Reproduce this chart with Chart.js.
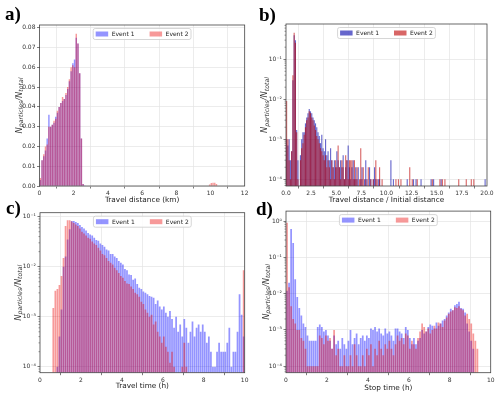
<!DOCTYPE html>
<html>
<head>
<meta charset="utf-8">
<script src="https://cdn.jsdelivr.net/npm/chart.js@4/dist/chart.umd.min.js"></script>
<style>
  body { margin: 0; background: #fff; width: 500px; height: 396px; position: relative; overflow: hidden; }
  canvas { position: absolute; }
  .lbl { position: absolute; font: bold 19px "Liberation Serif", serif; line-height: 19px; color: #000; }
</style>
</head>
<body>
<canvas id="chartA" style="left:0;top:0" width="250" height="206"></canvas>
<canvas id="chartB" style="left:250px;top:0" width="250" height="206"></canvas>
<canvas id="chartC" style="left:0;top:206px" width="250" height="190"></canvas>
<canvas id="chartD" style="left:250px;top:206px" width="250" height="190"></canvas>
<div class="lbl" style="left:5px;top:4px">a)</div>
<div class="lbl" style="left:259px;top:5px">b)</div>
<div class="lbl" style="left:6px;top:198px">c)</div>
<div class="lbl" style="left:256px;top:199px">d)</div>
<script>
// Labels
const seriesNames = ["Event 1", "Event 2"];
const yTitleParts = [["N", 8.3, 0], ["particles", 6.2, 1.8], ["/N", 8.3, 0], ["total", 6.2, 1.8]];

// a) Travel distance (km), bins of 0.1 km
const aBin = 0.1;
const aEvent1 = [0.003, 0.013, 0.015, 0.018, 0.024, 0.036, 0.030, 0.031, 0.032, 0.035,
  0.037, 0.040, 0.042, 0.043, 0.044, 0.046, 0.049, 0.053, 0.058, 0.062,
  0.064, 0.075, 0.072, 0.057, 0.024, 0.001, 0.0003];
const aEvent2 = [0.004, 0.013, 0.016, 0.020, 0.021, 0.030, 0.030, 0.031, 0.033, 0.034,
  0.038, 0.040, 0.042, 0.045, 0.044, 0.047, 0.050, 0.054, 0.060, 0.061,
  0.060, 0.077, 0.072, 0.057, 0.024, 0.001];
const aEvent2FarStart = 9.9;
const aEvent2Far = [0.0008, 0.0015, 0.0017, 0.0017, 0.001];

// b) Travel distance / Initial distance, bins of 0.125
const bBin = 0.125;
const bEvent1 = [
  1e-3, 7e-4, 1e-3, 3e-4, 5e-4, 0.03, 0.4, 0.3, 1.7e-3, 3e-4,
  0, 4e-4, 1e-3, 1.5e-3, 1.5e-3, 2.5e-3, 3.5e-3, 4.5e-3, 5.7e-3, 5e-3,
  4.5e-3, 3.5e-3, 3e-3, 2.5e-3, 2e-3, 1.5e-3, 1.2e-3, 8e-4, 1.3e-3, 6e-4,
  5e-4, 1e-3, 4e-4, 5e-4, 3e-4, 6e-4, 3e-4, 2e-4, 3e-4, 2e-4,
  5e-4, 3e-4, 2e-4, 3e-4, 2e-4, 4e-4, 1e-4, 2e-4, 3e-4, 7e-4,
  2e-4, 1e-4, 2e-4, 3e-4, 1e-4, 2e-4, 1e-4, 2e-4, 0, 1e-4,
  2e-4, 0, 1e-4, 3e-4, 1e-4, 0, 2e-4, 1e-4, 0, 1e-4,
  2e-4, 1e-4, 0, 1e-4, 1e-4, 0, 0, 0, 0, 0,
  0, 0, 0, 3e-4, 0, 1e-4, 0, 0, 0, 0,
  0, 0, 0, 0, 0, 0, 1e-4, 0, 0, 0,
  0, 1e-4, 0, 1e-4, 0, 0, 0, 1e-4, 0, 0,
  0, 0, 0, 0, 0, 1e-4, 0, 1e-4, 0, 0,
  0, 0, 0, 1e-4, 0, 0, 0, 0, 0, 0,
  0, 0, 0, 0, 0, 0, 0, 0, 0, 0,
  0, 0, 0, 0, 0, 0, 0, 0, 0, 0,
  0, 0, 0, 0, 0, 0, 0, 0, 1e-4, 0];
const bEvent2 = [
  9e-3, 1e-3, 3e-4, 1e-4, 5e-4, 0.04, 0.46, 0.26, 1.5e-3, 1e-4,
  0, 3e-4, 6e-4, 8e-4, 1.3e-3, 2e-3, 3e-3, 3.5e-3, 5e-3, 4.5e-3,
  3.5e-3, 3e-3, 2.2e-3, 1.7e-3, 1.2e-3, 1e-3, 8e-4, 6e-4, 5e-4, 4e-4,
  3e-4, 4e-4, 2e-4, 3e-4, 2e-4, 1e-4, 3e-4, 2e-4, 1e-4, 3e-4,
  2e-4, 7e-4, 2e-4, 1e-4, 3e-4, 2e-4, 1e-4, 4e-4, 3e-4, 1e-4,
  3e-4, 3e-4, 3e-4, 1e-4, 3e-4, 1e-4, 2e-4, 0, 1e-4, 6e-4,
  1e-4, 2e-4, 0, 1e-4, 0, 2e-4, 0, 1e-4, 0, 1e-4,
  0, 3e-4, 1e-4, 0, 2e-4, 0, 1e-4, 0, 0, 0,
  0, 0, 0, 0, 0, 0, 0, 1e-4, 0, 1e-4,
  0, 1e-4, 0, 0, 0, 0, 0, 0, 2e-4, 0,
  1e-4, 0, 0, 0, 1e-4, 0, 0, 0, 0, 0,
  0, 0, 0, 0, 0, 0, 1e-4, 0, 0, 0,
  0, 0, 1e-4, 0, 1e-4, 0, 1e-4, 0, 0, 0,
  0, 0, 0, 0, 0, 0, 0, 1e-4, 0, 0,
  0, 0, 0, 1e-4, 0, 0, 0, 1e-4, 0, 1e-4,
  0, 0, 0, 0, 0, 0, 0, 0, 0, 0];

// c) Travel time (h), bins of 0.1 h
const cBin = 0.1;
const cEvent1 = [
  0, 0, 0, 0, 0, 0, 0, 0, 1e-4, 4e-4,
  1.4e-3, 0.01, 0.016, 0.035, 0.056, 0.082, 0.082, 0.078, 0.075, 0.068,
  0.062, 0.058, 0.053, 0.047, 0.044, 0.042, 0.038, 0.034, 0.033, 0.029,
  0.027, 0.025, 0.022, 0.021, 0.018, 0.018, 0.016, 0.015, 0.013, 0.012,
  0.011, 0.009, 0.0085, 0.007, 0.0068, 0.0055, 0.0058, 0.0045, 0.0038, 0.0036,
  0.0032, 0.003, 0.0028, 0.0026, 0.0025, 0.0024, 0.0018, 0.0021, 0.0016, 0.0014,
  0.0016, 0.0012, 0.001, 0.0013, 0.0009, 0.0006, 0.001, 0.0005, 0.0007, 0.0004,
  0.0009, 0.0006, 0.0003, 0.0005, 0.0008, 0.0004, 0.0006, 0.0007, 0.0005, 0.0007,
  0.0005, 0.0003, 0.0004, 0.0002, 0.0001, 0.0001, 0.0002, 0.0003, 0.0002, 0.0002,
  0.0002, 0.0003, 0.0006, 0.0001, 0.0002, 0.0002, 0.0005, 0.0028, 0.0011, 0.0004];
const cEvent2 = [
  0, 0, 0, 0, 0, 0, 1.5e-3, 3.3e-3, 3.6e-3, 4.3e-3,
  6.5e-3, 0.015, 0.065, 0.085, 0.085, 0.08, 0.075, 0.07, 0.065, 0.058,
  0.05, 0.046, 0.042, 0.038, 0.036, 0.032, 0.029, 0.027, 0.024, 0.021,
  0.018, 0.017, 0.015, 0.013, 0.012, 0.011, 0.0095, 0.0085, 0.0075, 0.0065,
  0.006, 0.0052, 0.0046, 0.0045, 0.004, 0.0036, 0.003, 0.0028, 0.0025, 0.002,
  0.0018, 0.0014, 0.0012, 0.001, 0.0011, 0.0007, 0.0008, 0.0005, 0.0004, 0.0003,
  0.0004, 0.00025, 0.0002, 0.00012, 0.0002, 0.0001, 0, 0, 0, 0.0001,
  0.0003, 0.0001, 0, 0, 0, 0, 0, 0, 0, 0,
  0, 0, 0, 0, 0, 0, 0, 0, 0, 0,
  0, 0, 0, 0, 0, 0, 0, 0, 0, 0.0085];

// d) Stop time (h), bins of 0.1 h
const dBin = 0.1;
const dEvent1 = [
  0.012, 0.02, 0.6, 0.25, 0.025, 0.008, 0.004, 0.0025, 0.0015, 0.0012,
  0.0007, 0.0005, 0.0005, 0.0005, 0.0005, 0.0012, 0.0014, 0.0012, 0.0009, 0.001,
  0.0007, 0.0005, 0.0003, 0.0007, 0.0004, 0.0005, 0.0003, 0.0006, 0.0004, 0.0003,
  0.0005, 0.001, 0.0004, 0.0006, 0.0008, 0.0004, 0.0006, 0.0007, 0.0005, 0.0007,
  0.0006, 0.0011, 0.001, 0.0012, 0.0009, 0.0011, 0.0008, 0.0007, 0.0011, 0.0008,
  0.0009, 0.0007, 0.0005, 0.0011, 0.0011, 0.0009, 0.0008, 0.0006, 0.0012, 0.001,
  0.0006, 0.0004, 0.0006, 0.0004, 0.0005, 0.0006, 0.001, 0.0008, 0.0009, 0.0012,
  0.0014, 0.0013, 0.0011, 0.0016, 0.0013, 0.0015, 0.0018, 0.002, 0.0025, 0.003,
  0.0038, 0.0035, 0.0048, 0.0052, 0.006, 0.004, 0.0038, 0.003, 0.0015, 0.0009,
  0.0005, 0.0003, 0, 0, 0, 0, 0, 0, 0, 0];
const dEvent2 = [
  0.9, 0.015, 0.0045, 0.002, 0.0015, 0.001, 0.001, 0.0006, 0.0005, 0.0003,
  0.0001, 0.0001, 0.0001, 0.0001, 0.0001, 0.0001, 0.0007, 0.0006, 0.0004, 0.0007,
  0.0005, 0.0006, 0.0003, 0.001, 0.0002, 0.0003, 0.0001, 0.0001, 0.0002, 0.0001,
  0.0001, 0.0002, 0.0001, 0.0004, 0.0002, 0.0001, 0.0001, 0.0002, 0.0001, 0.0003,
  0.0002, 0.0004, 0.0001, 0.0003, 0.0002, 0.0005, 0.0003, 0.0002, 0.0004, 0.0003,
  0.0005, 0.0003, 0.0002, 0.0004, 0.0007, 0.0005, 0.0006, 0.0004, 0.0008, 0.0007,
  0.0003, 0.0005, 0.0004, 0.0003, 0.0006, 0.0009, 0.0015, 0.0012, 0.0009, 0.0011,
  0.0008, 0.001, 0.0013, 0.0011, 0.0016, 0.0015, 0.0012, 0.0018, 0.0022, 0.0028,
  0.0032, 0.0035, 0.0042, 0.004, 0.0045, 0.0038, 0.0035, 0.0025, 0.0028, 0.002,
  0.0015, 0.0008, 0.0005, 0.0003, 0, 0, 0, 0, 0, 0];

// Axis ticks
const logTicksB = [1e-4, 1e-3, 1e-2, 1e-1];
const logTicksC = [1e-4, 1e-3, 1e-2, 1e-1];
const logTicksD = [1e-4, 1e-3, 1e-2, 1e-1, 1];

const FONT = "DejaVu Sans";
const sup = { "-": "\u207B", "0": "\u2070", "1": "\u00B9", "2": "\u00B2", "3": "\u00B3", "4": "\u2074" };
const powLabel = v => "10" + String(Math.round(Math.log10(v))).split("").map(c => sup[c]).join("");

function histData(values, width, start) {
  return values.map((v, i) => ({ x: start + width * (i + 0.5), y: v }));
}

// frame, minor log ticks, boxed legend and the N_particles/N_total label
function framePlugin(o) {
  return {
    id: "frame",
    afterDatasetsDraw(chart) {
      const { ctx, chartArea: a } = chart;
      const y = chart.scales.y;
      ctx.save();
      if (y.type === "logarithmic") {
        ctx.strokeStyle = "#555";
        ctx.lineWidth = 0.6;
        for (let n = Math.floor(Math.log10(y.min)); n <= Math.ceil(Math.log10(y.max)); n++) {
          for (let k = 2; k <= 9; k++) {
            const v = k * Math.pow(10, n);
            if (v < y.min || v > y.max) continue;
            const py = y.getPixelForValue(v);
            ctx.beginPath();
            ctx.moveTo(a.left - 1.5, py);
            ctx.lineTo(a.left, py);
            ctx.stroke();
          }
        }
      }
      ctx.strokeStyle = "#444";
      ctx.lineWidth = 0.8;
      ctx.strokeRect(a.left, a.top, a.width, a.height);

      // legend
      ctx.font = "6px '" + FONT + "'";
      const items = chart.data.datasets;
      const sw = 12.5, sh = 5, gap = 3.5, colGap = 15, pad = 2.5, h = 11;
      let w = pad * 2 + colGap * (items.length - 1);
      items.forEach(d => { w += sw + gap + ctx.measureText(d.label).width; });
      let x = (a.left + a.right) / 2 - w / 2;
      const top = a.top + 3.5;
      ctx.fillStyle = "rgba(255,255,255,0.85)";
      ctx.strokeStyle = "#ccc";
      ctx.beginPath();
      ctx.roundRect(x, top, w, h, 2);
      ctx.fill();
      ctx.stroke();
      x += pad;
      ctx.textBaseline = "middle";
      items.forEach(d => {
        ctx.fillStyle = d.backgroundColor;
        ctx.fillRect(x, top + (h - sh) / 2, sw, sh);
        x += sw + gap;
        ctx.fillStyle = "#222";
        ctx.fillText(d.label, x, top + h / 2 + 0.3);
        x += ctx.measureText(d.label).width + colGap;
      });
      ctx.restore();
    },
    afterDraw(chart) {
      const { ctx, chartArea: a } = chart;
      ctx.save();
      ctx.translate(o.yTitleX, (a.top + a.bottom) / 2);
      ctx.rotate(-Math.PI / 2);
      ctx.fillStyle = "#333";
      let total = 0;
      yTitleParts.forEach(p => {
        ctx.font = "italic " + p[1] + "px '" + FONT + "'";
        total += ctx.measureText(p[0]).width;
      });
      let x = -total / 2;
      yTitleParts.forEach(p => {
        ctx.font = "italic " + p[1] + "px '" + FONT + "'";
        ctx.fillText(p[0], x, p[2]);
        x += ctx.measureText(p[0]).width;
      });
      ctx.restore();
    }
  };
}

function makeChart(id, o) {
  const grid = { color: "#e4e4e4", lineWidth: 0.7, tickColor: "#444", tickLength: 2.5 };
  const tickFont = { family: FONT, size: 6 };
  const yScale = o.logTicks ? {
    type: "logarithmic", min: o.yMin, max: o.yMax,
    afterBuildTicks: s => { s.ticks = o.logTicks.map(v => ({ value: v })); },
    ticks: { font: tickFont, color: "#333", padding: 1.5, callback: v => powLabel(v) },
    grid, border: { display: false },
    afterFit: s => { s.width = o.yW; }
  } : {
    type: "linear", min: o.yMin, max: o.yMax,
    ticks: { stepSize: o.yStep, includeBounds: false, font: tickFont, color: "#333", padding: 1.5,
      callback: v => v.toFixed(2) },
    grid, border: { display: false },
    afterFit: s => { s.width = o.yW; }
  };
  return new Chart(document.getElementById(id), {
    type: "bar",
    data: {
      datasets: [
        { label: seriesNames[0], data: o.e1, backgroundColor: o.c1, order: 1,
          grouped: false, barPercentage: o.barPct, categoryPercentage: 1 },
        { label: seriesNames[1], data: o.e2, backgroundColor: o.c2, order: 0,
          grouped: false, barPercentage: o.barPct, categoryPercentage: 1 }
      ]
    },
    options: {
      responsive: false,
      animation: false,
      layout: { padding: o.pad },
      plugins: { legend: { display: false }, tooltip: { enabled: false } },
      scales: {
        x: {
          type: "linear", min: o.xMin, max: o.xMax, offset: false,
          ticks: { stepSize: o.xStep, autoSkip: false, maxRotation: 0, font: tickFont, color: "#333",
            padding: 1.5, callback: o.xFmt },
          grid, border: { display: false },
          title: { display: true, text: o.xTitle, color: "#222", font: { family: FONT, size: 7.3 },
            padding: { top: 0, bottom: o.titlePad } },
          afterFit: s => { s.height = o.xH; }
        },
        y: yScale
      }
    },
    plugins: [framePlugin(o)]
  });
}

const lightBlue = "rgba(0,0,255,0.42)";
const lightRed = "rgba(235,0,0,0.4)";

makeChart("chartA", {
  e1: histData(aEvent1, aBin, 0),
  e2: histData(aEvent2, aBin, 0).concat(histData(aEvent2Far, aBin, aEvent2FarStart)),
  c1: lightBlue, c2: lightRed, barPct: 0.85,
  xMin: 0, xMax: 12, xStep: 2, xFmt: v => String(v), xTitle: "Travel distance (km)",
  yMin: 0, yMax: 0.0814, yStep: 0.01,
  pad: { left: 0, top: 25, right: 3.3, bottom: 0 }, yW: 39.5, xH: 20, titlePad: 1.1, yTitleX: 21.5
});

makeChart("chartB", {
  e1: histData(bEvent1, bBin, 0),
  e2: histData(bEvent2, bBin, 0),
  c1: "rgba(0,0,170,0.6)", c2: "rgba(190,0,0,0.6)", barPct: 0.9,
  xMin: 0, xMax: 20, xStep: 2.5, xFmt: v => v.toFixed(1), xTitle: "Travel distance / Initial distance",
  yMin: 6.8e-5, yMax: 0.76, logTicks: logTicksB,
  pad: { left: 0, top: 24, right: 13, bottom: 0 }, yW: 36, xH: 20, titlePad: 1.1, yTitleX: 17
});

makeChart("chartC", {
  e1: histData(cEvent1, cBin, 0),
  e2: histData(cEvent2, cBin, 0),
  c1: lightBlue, c2: lightRed, barPct: 0.85,
  xMin: 0, xMax: 10, xStep: 2, xFmt: v => String(v), xTitle: "Travel time (h)",
  yMin: 7.6e-5, yMax: 0.12, logTicks: logTicksC,
  pad: { left: 0, top: 6.7, right: 4, bottom: 0 }, yW: 40, xH: 23.3, titlePad: 5.1, yTitleX: 20.5
});

makeChart("chartD", {
  e1: histData(dEvent1, dBin, 0),
  e2: histData(dEvent2, dBin, 0),
  c1: lightBlue, c2: lightRed, barPct: 0.85,
  xMin: 0, xMax: 10, xStep: 2, xFmt: v => String(v), xTitle: "Stop time (h)",
  yMin: 6.6e-5, yMax: 1.88, logTicks: logTicksD,
  pad: { left: 0, top: 4, right: 9.3, bottom: 0 }, yW: 36, xH: 23.3, titlePad: 3.9, yTitleX: 18.5
});
</script>
</body>
</html>
